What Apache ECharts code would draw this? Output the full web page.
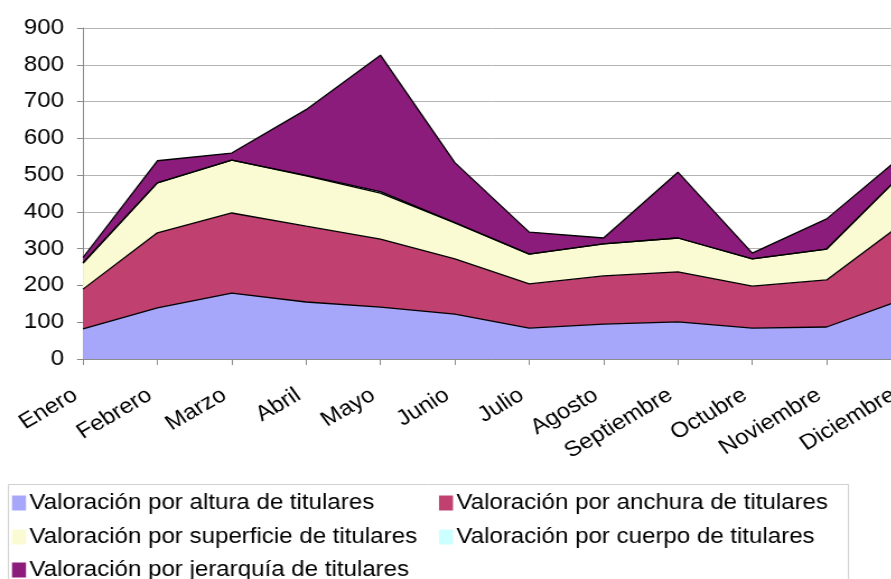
<!DOCTYPE html>
<html>
<head>
<meta charset="utf-8">
<script src="https://cdn.jsdelivr.net/npm/echarts@6/dist/echarts.min.js"></script>
<style>
  html, body { margin: 0; padding: 0; background: #fff; overflow: hidden; }
  #frame { width: 891px; height: 579px; overflow: hidden; position: relative; }
  /* the chart is laid out slightly narrower and widened horizontally */
  #chart { width: 815px; height: 579px; transform: scaleX(1.12); transform-origin: 0 0; }
</style>
</head>
<body>
<div id="frame"><div id="chart"></div></div>
<script>
// Monthly headline valuations, stacked by criterion
const months = ['Enero', 'Febrero', 'Marzo', 'Abril', 'Mayo', 'Junio', 'Julio',
  'Agosto', 'Septiembre', 'Octubre', 'Noviembre', 'Diciembre'];

const seriesNames = [
  'Valoración por altura de titulares',
  'Valoración por anchura de titulares',
  'Valoración por superficie de titulares',
  'Valoración por cuerpo de titulares',
  'Valoración por jerarquía de titulares'
];

const altura     = [82, 139, 179, 155, 141, 122, 84, 95, 101, 84, 87, 160];
const anchura    = [108, 204, 218, 206, 185, 150, 120, 131, 136, 114, 128, 206];
const superficie = [71, 136, 144, 137, 125, 98, 81, 87, 92, 74, 84, 134];
const cuerpo     = [0, 0, 0, 1, 4, 1, 0, 0, 0, 0, 0, 0];
const jerarquia  = [15, 60, 19, 179, 371, 163, 60, 16, 179, 16, 82, 50];

const yTicks = [0, 100, 200, 300, 400, 500, 600, 700, 800, 900];

const colors = ['#a6a6fa', '#c0406f', '#fbfbd3', '#ccffff', '#8c1c7c'];
const values = [altura, anchura, superficie, cuerpo, jerarquia];

const SX = 1.12;                      // horizontal widening of the layout
const px = v => v / SX;               // screen x distance -> layout x distance
const FONT = '"Liberation Sans", Arial, sans-serif';
const FS = 21.5;

const series = seriesNames.map((name, i) => ({
  name: name,
  type: 'line',
  stack: 'total',
  data: values[i],
  symbol: 'none',
  silent: true,
  lineStyle: { color: '#000', width: 1.3 },
  areaStyle: { color: colors[i], opacity: 1 },
  itemStyle: { color: colors[i] }
}));

// Two-column legend, one legend block per entry
const legendPos = [
  { left: 12, top: 492 },
  { left: 439, top: 492 },
  { left: 12, top: 526 },
  { left: 439, top: 526 },
  { left: 12, top: 559 }
];
const legends = seriesNames.map((name, i) => ({
  data: [name],
  left: px(legendPos[i].left),
  top: legendPos[i].top,
  padding: 0,
  itemWidth: px(14),
  itemHeight: 15,
  icon: 'rect',
  itemGap: 0,
  selectedMode: false,
  textStyle: { fontFamily: FONT, fontSize: FS, color: '#000', padding: [0, 0, 0, -2] }
}));

const chart = echarts.init(document.getElementById('chart'), null, { renderer: 'canvas' });
chart.setOption({
  animation: false,
  backgroundColor: '#fff',
  grid: {
    left: px(83), width: px(818), top: 28, bottom: 220,
    containLabel: false, outerBoundsMode: 'none'
  },
  legend: legends,
  graphic: [{
    type: 'rect',
    shape: { x: px(8.5), y: 484.5, width: px(840), height: 110 },
    style: { fill: 'none', stroke: '#d0d0d0', lineWidth: 1 },
    silent: true
  }],
  xAxis: {
    type: 'category',
    data: months,
    boundaryGap: false,
    axisLine: { lineStyle: { color: '#8c8c8c', width: 1 } },
    axisTick: { show: true, length: 6, alignWithLabel: true, lineStyle: { color: '#8c8c8c' } },
    axisLabel: {
      interval: 0,
      rotate: 33,
      margin: 30,
      fontFamily: FONT,
      fontSize: FS,
      color: '#000',
      padding: [0, 8, 0, 0]
    }
  },
  yAxis: {
    type: 'value',
    min: 0,
    max: 900,
    interval: 100,
    axisLine: { show: true, lineStyle: { color: '#8c8c8c', width: 1 } },
    axisTick: { show: true, length: px(6), lineStyle: { color: '#8c8c8c' } },
    splitLine: { lineStyle: { color: '#b4b4b4', width: 1 } },
    axisLabel: {
      margin: px(19),
      fontFamily: FONT,
      fontSize: FS,
      color: '#000',
      formatter: v => (yTicks.indexOf(v) >= 0 ? String(v) : '')
    }
  },
  series: series
});
</script>
</body>
</html>
